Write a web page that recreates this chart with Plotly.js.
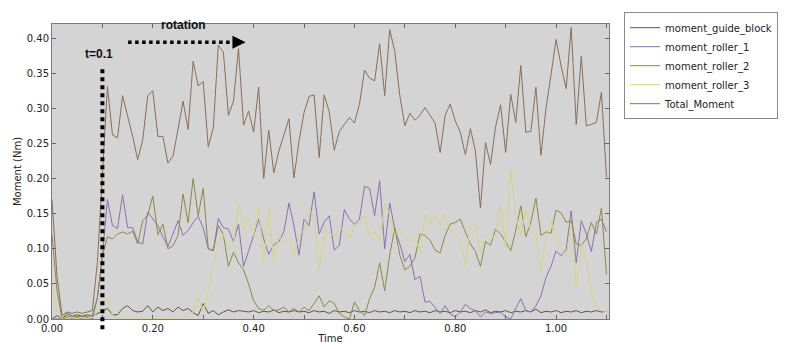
<!DOCTYPE html>
<html>
<head>
<meta charset="utf-8">
<script src="https://cdn.plot.ly/plotly-3.0.1.min.js"></script>
<style>html,body{margin:0;padding:0;background:#fff;}#chart{width:800px;height:349px;}</style>
</head>
<body>
<div id="chart"></div>
<script>
const time = [0,0.01,0.02,0.03,0.04,0.05,0.06,0.07,0.08,0.09,
0.10,0.11,0.12,0.13,0.14,0.15,0.16,0.17,0.18,0.19,
0.20,0.21,0.22,0.23,0.24,0.25,0.26,0.27,0.28,0.29,
0.30,0.31,0.32,0.33,0.34,0.35,0.36,0.37,0.38,0.39,
0.40,0.41,0.42,0.43,0.44,0.45,0.46,0.47,0.48,0.49,
0.50,0.51,0.52,0.53,0.54,0.55,0.56,0.57,0.58,0.59,
0.60,0.61,0.62,0.63,0.64,0.65,0.66,0.67,0.68,0.69,
0.70,0.71,0.72,0.73,0.74,0.75,0.76,0.77,0.78,0.79,
0.80,0.81,0.82,0.83,0.84,0.85,0.86,0.87,0.88,0.89,
0.90,0.91,0.92,0.93,0.94,0.95,0.96,0.97,0.98,0.99,
1.00,1.01,1.02,1.03,1.04,1.05,1.06,1.07,1.08,1.09,
1.10];

const guideBlock = [0,0.005,0,0.008,0.004,0.006,0.004,0.006,0.004,0.008,
0.012,0.015,0.006,0.006,0.015,0.019,0.012,0.01,0.011,0.019,
0.01,0.017,0.012,0.015,0.01,0.017,0.012,0.015,0.009,0.005,
0.022,0.008,0.012,0.006,0.01,0.013,0.01,0.012,0.011,0.01,
0.012,0.009,0.011,0.01,0.013,0.009,0.011,0.01,0.012,0.01,
0.011,0.009,0.012,0.01,0.011,0.008,0.012,0.01,0.011,0.009,
0.012,0.01,0.011,0.009,0.012,0.01,0.011,0.009,0.012,0.01,
0.011,0.009,0.012,0.01,0.011,0.009,0.012,0.01,0.011,0.009,
0.012,0.01,0.011,0.009,0.012,0.01,0.013,0.009,0.011,0.01,
0.012,0.009,0.011,0.01,0.012,0.01,0.014,0.009,0.011,0.01,
0.012,0.009,0.011,0.01,0.012,0.009,0.011,0.01,0.012,0.01,
0.011];

const roller1 = [0,0,0,0.002,0,0.002,0,0.002,0,0.03,
0.09,0.17,0.133,0.129,0.177,0.13,0.13,0.11,0.107,0.152,
0.142,0.133,0.117,0.103,0.121,0.14,0.119,0.126,0.137,0.146,
0.13,0.10,0.097,0.143,0.13,0.128,0.11,0.135,0.075,0.096,
0.119,0.142,0.114,0.092,0.106,0.11,0.124,0.165,0.133,0.091,
0.142,0.133,0.181,0.121,0.138,0.147,0.098,0.105,0.156,0.142,
0.135,0.142,0.189,0.186,0.147,0.197,0.10,0.165,0.128,0.107,
0.082,0.092,0.056,0.061,0.024,0.025,0.017,0.008,0.019,0.007,
0.003,0.01,0.021,0.015,0.012,0.003,0.01,0.008,0.009,0.01,
0.003,0,0.015,0.029,0.012,0.01,0.019,0.033,0.059,0.075,
0.097,0.09,0.099,0.154,0.08,0.14,0.121,0.096,0.138,0.142,
0.124];

const roller2 = [0.12,0.04,0,0.005,0.002,0.004,0.003,0.004,0.005,0.03,
0.09,0.117,0.114,0.121,0.124,0.121,0.125,0.107,0.14,0.148,
0.175,0.12,0.135,0.1,0.104,0.119,0.178,0.137,0.2,0.147,
0.186,0.10,0.098,0.133,0.12,0.075,0.095,0.08,0.07,0.05,
0.026,0.015,0.0125,0.019,0.012,0.013,0.017,0.01,0.015,0.01,
0.017,0.012,0.022,0.033,0.017,0.026,0.022,0.008,0.003,0,
0.024,0.012,0.005,0.029,0.045,0.08,0.04,0.091,0.13,0.091,
0.07,0.075,0.087,0.121,0.119,0.112,0.098,0.094,0.119,0.135,
0.1375,0.142,0.124,0.107,0.096,0.075,0.11,0.105,0.128,0.121,
0.11,0.097,0.126,0.161,0.117,0.1375,0.172,0.119,0.124,0.122,
0.155,0.151,0.1375,0.14,0.107,0.105,0.114,0.1375,0.121,0.158,
0.063];

const roller3 = [0.05,0.01,0,0,0.002,0,0.002,0,0.002,0.01,
0.02,0.03,0.005,0,0,0,0,0,0,0,
0,0,0,0,0,0,0,0.005,0.01,0.03,
0.01,0.04,0.077,0.11,0.121,0.10,0.107,0.165,0.128,0.144,
0.119,0.158,0.082,0.158,0.082,0.119,0.107,0.114,0.089,0.121,
0.126,0.158,0.142,0.07,0.128,0.124,0.117,0.128,0.13,0.114,
0.133,0.1375,0.147,0.119,0.124,0.11,0.164,0.149,0.119,0.126,
0.117,0.11,0.117,0.096,0.149,0.135,0.151,0.133,0.149,0.126,
0.121,0.114,0.073,0.135,0.135,0.096,0.119,0.112,0.121,0.163,
0.103,0.213,0.147,0.119,0.156,0.124,0.12,0.068,0.114,0.14,
0.11,0.10,0.089,0.135,0.045,0.107,0.084,0.038,0.017,0.012,
0.01];

const totalMoment = [0.17,0.06,0.005,0.01,0.008,0.01,0.008,0.01,0.012,0.08,
0.21,0.331,0.262,0.258,0.318,0.29,0.26,0.227,0.255,0.318,
0.325,0.26,0.26,0.222,0.232,0.27,0.31,0.27,0.367,0.332,
0.338,0.245,0.272,0.39,0.38,0.29,0.31,0.385,0.276,0.296,
0.266,0.33,0.20,0.269,0.208,0.239,0.262,0.285,0.201,0.253,
0.294,0.317,0.319,0.230,0.319,0.295,0.240,0.267,0.277,0.287,
0.279,0.306,0.354,0.343,0.339,0.392,0.318,0.412,0.381,0.318,
0.275,0.293,0.283,0.29,0.301,0.29,0.279,0.237,0.29,0.306,
0.282,0.266,0.234,0.271,0.239,0.158,0.251,0.220,0.274,0.305,
0.237,0.320,0.280,0.361,0.266,0.267,0.33,0.233,0.30,0.348,
0.398,0.36,0.328,0.415,0.277,0.374,0.275,0.277,0.28,0.323,
0.202];

const seriesNames = ['moment_guide_block','moment_roller_1','moment_roller_2','moment_roller_3','Total_Moment'];
const seriesData = [guideBlock, roller1, roller2, roller3, totalMoment];
const seriesColors = ['#5e5843','#8b6fb3','#8a8a48','#d6d680','#8a6e58'];

const traces = seriesData.map((ys, i) => ({
  x: time, y: ys, type: 'scatter', mode: 'lines', name: seriesNames[i],
  line: {color: seriesColors[i], width: 1}
}));

const font = {family: 'DejaVu Sans, Verdana, sans-serif', size: 10, color: '#222'};

const layout = {
  width: 800, height: 349,
  margin: {l: 52, r: 191, t: 17, b: 30, pad: 0},
  paper_bgcolor: '#ffffff',
  plot_bgcolor: '#d4d4d4',
  font: font,
  showlegend: true,
  legend: {
    x: 1.027, xanchor: 'left', y: 1.04, yanchor: 'top',
    bgcolor: '#ffffff', bordercolor: '#8a8a8a', borderwidth: 1,
    font: font
  },
  xaxis: {
    range: [0, 1.105], tick0: 0, dtick: 0.2, tickformat: '.2f',
    ticks: 'inside', ticklen: 4, tickcolor: '#666', mirror: 'allticks',
    showline: true, linecolor: '#7a7a7a', linewidth: 1,
    minor: {dtick: 0.1, ticks: 'inside', ticklen: 4, tickcolor: '#666', showgrid: false},
    showgrid: false, zeroline: false, tickfont: font,
    title: {text: 'Time', font: font, standoff: 1}
  },
  yaxis: {
    range: [0, 0.42], tick0: 0, dtick: 0.05, tickformat: '.2f',
    ticks: 'inside', ticklen: 4, tickcolor: '#666', mirror: 'allticks',
    showline: true, linecolor: '#7a7a7a', linewidth: 1,
    showgrid: false, zeroline: false, tickfont: font,
    title: {text: 'Moment (Nm)', font: font, standoff: 3}
  },
  shapes: [
    {type: 'line', xref: 'x', yref: 'paper', x0: 0.1, x1: 0.1, y0: -0.035, y1: 0.86,
     line: {color: '#000', width: 4, dash: 'dot'}},
    {type: 'line', xref: 'x', yref: 'y', x0: 0.151, x1: 0.372, y0: 0.394, y1: 0.394,
     line: {color: '#000', width: 3.5, dash: 'dot'}}
  ],
  annotations: [
    {x: 0.384, y: 0.394, xref: 'x', yref: 'y', ax: 0.37, ay: 0.394, axref: 'x', ayref: 'y',
     text: '', showarrow: true, arrowhead: 2, arrowsize: 0.75, arrowwidth: 3.5, arrowcolor: '#000'},
    {x: 0.26, y: 0.418, xref: 'x', yref: 'y', text: '<b>rotation</b>', showarrow: false,
     font: {family: 'Liberation Sans, Arial, sans-serif', size: 12, color: '#111'}},
    {x: 0.094, y: 0.378, xref: 'x', yref: 'y', text: '<b>t=0.1</b>', showarrow: false,
     font: {family: 'Liberation Sans, Arial, sans-serif', size: 12, color: '#111'}}
  ]
};

Plotly.newPlot('chart', traces, layout, {displayModeBar: false, staticPlot: true});
</script>
</body>
</html>
